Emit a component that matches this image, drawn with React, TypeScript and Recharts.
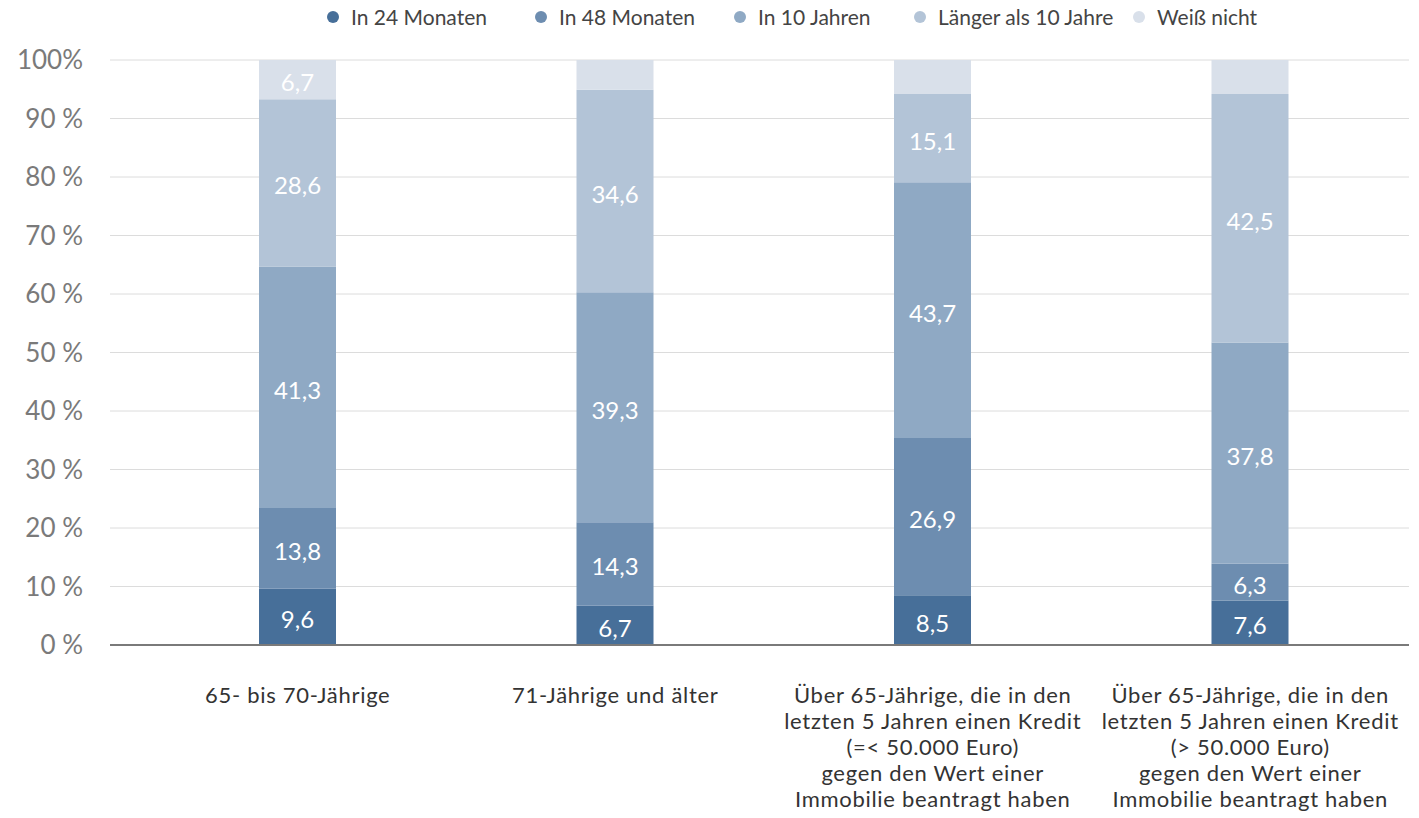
import React from 'react';
import { BarChart, Bar, XAxis, YAxis, CartesianGrid, LabelList } from 'recharts';

// ---------------------------------------------------------------------------
// Data
// ---------------------------------------------------------------------------

const CATEGORIES = [
  '65- bis 70-Jährige',
  '71-Jährige und älter',
  'Über 65-Jährige, die in den\nletzten 5 Jahren einen Kredit\n(=< 50.000 Euro)\ngegen den Wert einer\nImmobilie beantragt haben',
  'Über 65-Jährige, die in den\nletzten 5 Jahren einen Kredit\n(> 50.000 Euro)\ngegen den Wert einer\nImmobilie beantragt haben',
];

const IN_24_MONATEN = [9.6, 6.7, 8.5, 7.6];
const IN_48_MONATEN = [13.8, 14.3, 26.9, 6.3];
const IN_10_JAHREN = [41.3, 39.3, 43.7, 37.8];
const LAENGER_10_JAHRE = [28.6, 34.6, 15.1, 42.5];
const WEISS_NICHT = [6.7, 5.1, 5.8, 5.8];

const Y_TICKS = [0, 10, 20, 30, 40, 50, 60, 70, 80, 90, 100];

const SERIES = [
  { key: 'in24', name: 'In 24 Monaten', color: '#476f99' },
  { key: 'in48', name: 'In 48 Monaten', color: '#6d8db0' },
  { key: 'in10', name: 'In 10 Jahren', color: '#8fa9c4' },
  { key: 'laenger', name: 'Länger als 10 Jahre', color: '#b3c4d7' },
  { key: 'weiss', name: 'Weiß nicht', color: '#d9e0ea' },
];

// legend item left edges in the original layout
const LEGEND_X = [327, 535, 734, 914, 1133];

const FONT = 'Lato, "Open Sans", sans-serif';

const chartData = CATEGORIES.map((name, i) => ({
  name,
  in24: IN_24_MONATEN[i],
  in48: IN_48_MONATEN[i],
  in10: IN_10_JAHREN[i],
  laenger: LAENGER_10_JAHRE[i],
  weiss: WEISS_NICHT[i],
}));

// ---------------------------------------------------------------------------
// Custom ticks / labels
// ---------------------------------------------------------------------------

function CategoryTick(props: any) {
  const { x, y, payload } = props;
  const lines = String(payload.value).split('\n');
  return (
    <g>
      {lines.map((line, i) => (
        <text
          key={i}
          x={x}
          y={y + 50 + i * 26}
          textAnchor="middle"
          fill="#333"
          fontSize={22}
          letterSpacing={0.7}
          fontFamily={FONT}
        >
          {line}
        </text>
      ))}
    </g>
  );
}

function PercentTick(props: any) {
  const { x, y, payload } = props;
  const v = payload.value;
  return (
    <text x={x} y={y} dy={9} textAnchor="end" fill="#7a7a7a" fontSize={26} fontFamily={FONT}>
      {v === 100 ? '100%' : `${v} %`}
    </text>
  );
}

function SegmentLabel(props: any) {
  const { x, y, width, height, value } = props;
  if (value == null || value < 6) return null;
  return (
    <text
      x={x + width / 2}
      y={y + height / 2 + 2}
      textAnchor="middle"
      dominantBaseline="central"
      fill="#ffffff"
      fontSize={24}
      fontFamily={FONT}
    >
      {String(value).replace('.', ',')}
    </text>
  );
}

// ---------------------------------------------------------------------------
// Component
// ---------------------------------------------------------------------------

export default function App() {
  return (
    <div style={{ position: 'absolute', left: 0, top: 0, width: 1419, height: 818, background: '#fff' }}>
      {/* Legend */}
      {SERIES.map((s, i) => (
        <div
          key={s.key}
          style={{
            position: 'absolute',
            top: 3,
            left: LEGEND_X[i],
            display: 'flex',
            alignItems: 'center',
            gap: 12,
            fontFamily: FONT,
            fontSize: 21,
            color: '#444',
            whiteSpace: 'nowrap',
            lineHeight: '28px',
          }}
        >
          <span
            style={{
              display: 'inline-block',
              width: 12,
              height: 12,
              borderRadius: '50%',
              backgroundColor: s.color,
            }}
          />
          {s.name}
        </div>
      ))}

      <BarChart
        width={1419}
        height={818}
        data={chartData}
        margin={{ top: 60, right: 10, left: 0, bottom: 0 }}
        barSize={77}
      >
        <CartesianGrid vertical={false} stroke="#dcdcdc" strokeWidth={1} />
        <XAxis
          dataKey="name"
          interval={0}
          tick={<CategoryTick />}
          tickLine={false}
          axisLine={{ stroke: '#7a7a7a', strokeWidth: 2 }}
          padding={{ left: 29, right: 0 }}
          height={173}
        />
        <YAxis
          type="number"
          domain={[0, 100]}
          ticks={Y_TICKS}
          width={110}
          tick={<PercentTick />}
          tickLine={false}
          axisLine={false}
          tickSize={0}
          tickMargin={27}
        />
        {SERIES.map((s) => (
          <Bar key={s.key} dataKey={s.key} name={s.name} stackId="a" fill={s.color} isAnimationActive={false}>
            <LabelList dataKey={s.key} content={<SegmentLabel />} />
          </Bar>
        ))}
      </BarChart>
    </div>
  );
}
